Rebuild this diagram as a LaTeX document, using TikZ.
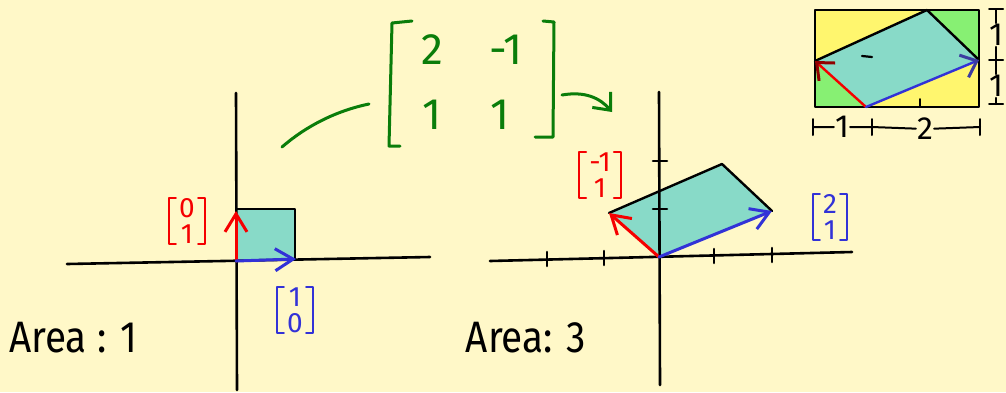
\documentclass[tikz,border=0pt]{standalone}
\usepackage{fontspec}
\setmainfont{Fira Sans}
\usetikzlibrary{arrows.meta,calc,positioning}
\definecolor{paper}{RGB}{255,248,200}
\definecolor{areacol}{RGB}{136,218,200}
\definecolor{icol}{RGB}{50,50,215}
\definecolor{jcol}{RGB}{245,0,0}
\definecolor{mapcol}{RGB}{10,125,10}
\definecolor{insetyel}{RGB}{255,246,110}
\definecolor{insetgrn}{RGB}{135,240,115}
\definecolor{jdark}{RGB}{145,0,0}
\definecolor{idark}{RGB}{60,60,160}

\tikzset{
  axis/.style={line width=2.6pt},
  edge/.style={line width=2.4pt},
  veca/.style={icol,line width=3pt,-{Straight Barb[length=18pt,width=22pt,line width=3pt]}},
  vecb/.style={jcol,line width=3pt,-{Straight Barb[length=18pt,width=22pt,line width=3pt]}},
  vlab/.style={align=center,inner xsep=10pt,inner ysep=0pt,font=\fontsize{28}{26}\selectfont},
  entry/.style={mapcol,font=\fontsize{44}{48}\selectfont},
  mapline/.style={mapcol,line width=3pt},
  arealab/.style={xscale=0.88,font=\fontsize{44}{48}\selectfont},
  dimlab/.style={fill=paper,inner sep=1pt,font=\fontsize{32}{34}\selectfont},
}
\newcommand\colbrackets[2]{%
  \draw[#2,line width=2pt] ($(#1.north west)+(7,0)$) -- (#1.north west) -- (#1.south west) -- ++(7,0);
  \draw[#2,line width=2pt] ($(#1.north east)+(-7,0)$) -- (#1.north east) -- (#1.south east) -- ++(-7,0);}

\begin{document}
\begin{tikzpicture}[x=1pt,y=-1pt,line cap=round,line join=round]
\useasboundingbox[fill=paper] (0,0) rectangle (1006,392);
% left: unit square
\coordinate (oa) at (236,261);
\fill[areacol] (oa) rectangle (295,209);
\draw[axis] (67,264) -- (430,257);
\draw[axis] (236,93) -- (237,390);
\draw[line width=1.8pt] (236,209) -- (295,209) -- (295,260);
\draw[vecb] (oa) -- (236,211);
\draw[veca] (oa) -- (296,259);
\node[vlab,jcol] (ej) at (187,221) {0\\1};
\colbrackets{ej}{jcol}
\node[vlab,icol] (ei) at (295,310) {1\\0};
\colbrackets{ei}{icol}
\node[arealab] (areaa) at (73,338) {Area : 1};
% matrix
\node[entry] (m11) at (432,50) {2};
\node[entry] (m12) at (506,50) {-1};
\node[entry] (m21) at (432,115) {1};
\node[entry] (m22) at (500,115) {1};
\draw[mapline] (412,21) -- (392,23) -- (389,146) -- (400,146);
\draw[mapline] (543,21) -- (554,22) -- (553,137) -- (535,137);
\coordinate (mapin) at (282,147);
\coordinate (mapmid) at (369,104);
\draw[mapline] (mapin) .. controls (305,127) and (335,111) .. (mapmid);
\coordinate (mapout) at (562,95);
\coordinate (mapend) at (612,112);
\draw[mapline,-{Straight Barb[length=14pt,width=24pt,line width=3pt]}]
  (mapout) .. controls (585,91) and (600,98) .. (mapend);
% right: image of the square
\coordinate (ob) at (659,257);
\coordinate (vb) at (772,211);
\coordinate (vt) at (722,164);
\coordinate (vr) at (609,213);
\fill[areacol] (ob) -- (vb) -- (vt) -- (vr) -- cycle;
\draw[axis] (490,261) -- (852,252);
\draw[axis] (659,92) -- (660,385);
\foreach \x/\y in {547/259,604/258,714/256,772/255}
  \draw[axis] (\x,\y-7) -- (\x,\y+7);
\foreach \y in {161,209}
  \draw[axis] (653,\y) -- (667,\y);
\draw[edge] (vr) -- (vt) -- (vb);
\draw[vecb] (ob) -- (vr);
\draw[veca] (ob) -- (vb);
\node[vlab,jcol] (fj) at (600,175) {-1\\1};
\colbrackets{fj}{jcol}
\node[vlab,icol] (fi) at (830,217) {2\\1};
\colbrackets{fi}{icol}
\node[arealab] (areab) at (526,338) {Area: 3};
% inset: box minus corner triangles
\coordinate (p0) at (866,107);
\coordinate (pb) at (979,60);
\coordinate (pt) at (927,10);
\coordinate (pr) at (815,61);
\fill[insetyel] (815,10) rectangle (979,107);
\fill[insetgrn] (pt) -- (979,10) -- (pb) -- cycle;
\fill[insetgrn] (pr) -- (815,107) -- (p0) -- cycle;
\fill[areacol] (p0) -- (pb) -- (pt) -- (pr) -- cycle;
\draw[line width=2.4pt] (815,10) rectangle (979,107);
\draw[edge] (pr) -- (pt) -- (pb);
\draw[line width=2.2pt] (862,56) -- (872,57);
\draw[line width=1.6pt] (920,99) -- (920,106);
\draw[jcol,line width=2.4pt,-{Straight Barb[length=14pt,width=24pt,line width=3pt,color=jdark]}] (p0) -- (pr);
\draw[icol,line width=2.4pt,-{Straight Barb[length=14pt,width=24pt,line width=3pt,color=idark]}] (p0) -- (pb);
% inset dimensions
\node[dimlab] (h1) at (996,35) {1};
\node[dimlab] (h2) at (996,86) {1};
\coordinate (ht) at (996,9);
\coordinate (hm) at (996,60);
\coordinate (hb) at (996,104);
\draw[line width=2pt] (ht) -- (h1) -- (hm) -- (h2) -- (hb);
\foreach \c in {ht,hm,hb}
  \draw[line width=2pt] ($(\c)+(-7,0)$) -- ($(\c)+(7,0)$);
\node[dimlab] (w1) at (842,127) {1};
\node[dimlab] (w2) at (925,129) {2};
\coordinate (wl) at (813,127);
\coordinate (wm) at (872,127);
\coordinate (wr) at (980,127);
\draw[line width=2pt] (wl) -- (w1) -- (wm) -- (w2) -- (wr);
\foreach \c in {wl,wm,wr}
  \draw[line width=2pt] ($(\c)+(0,-8)$) -- ($(\c)+(0,8)$);
\end{tikzpicture}
\end{document}
